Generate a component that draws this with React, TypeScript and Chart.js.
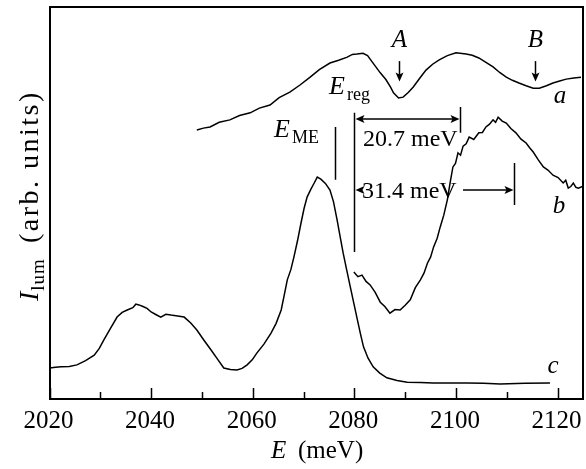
import { useEffect, useRef } from "react";
import { Chart, registerables } from "chart.js";

Chart.register(...registerables);

// Photon energy (meV) and luminescence intensity (arb. units) for the three spectra
const energyA = [2049.0, 2050.3, 2051.6, 2053.4, 2055.5, 2057.4, 2059.5, 2061.3, 2063.4, 2065.2, 2067.3, 2069.3, 2071.3, 2073.1, 2075.2, 2076.9, 2078.6, 2079.6, 2080.5, 2081.7, 2082.6, 2083.5, 2085.1, 2086.2, 2087.1, 2087.7, 2088.7, 2089.6, 2090.6, 2091.6, 2092.9, 2094.1, 2095.4, 2096.7, 2098.3, 2100.0, 2102.0, 2103.2, 2104.5, 2105.9, 2107.3, 2108.6, 2109.9, 2111.1, 2112.4, 2113.8, 2115.2, 2116.4, 2117.8, 2119.1, 2120.4, 2121.7, 2123.2, 2124.6];
const intensityA = [68.6, 69.1, 69.4, 70.6, 71.2, 72.3, 73.0, 74.2, 75.0, 76.9, 78.3, 80.1, 82.1, 84.0, 85.7, 86.4, 87.2, 87.9, 88.0, 88.2, 87.6, 86.0, 83.2, 81.5, 79.6, 78.1, 76.8, 77.0, 78.2, 79.6, 81.9, 83.9, 85.4, 86.5, 87.6, 88.3, 88.0, 87.7, 87.0, 85.9, 84.7, 83.3, 82.1, 81.3, 80.6, 79.9, 79.3, 79.3, 79.9, 80.6, 81.1, 81.6, 81.9, 82.1];

const energyB = [2079.9, 2080.7, 2081.5, 2082.3, 2083.1, 2084.1, 2085.1, 2086.0, 2087.0, 2088.0, 2089.0, 2090.0, 2091.0, 2092.0, 2093.0, 2093.7, 2094.4, 2095.0, 2095.6, 2096.3, 2096.9, 2097.6, 2098.3, 2098.9, 2099.4, 2099.9, 2100.4, 2100.9, 2101.4, 2102.0, 2102.6, 2103.5, 2104.5, 2105.2, 2105.9, 2106.6, 2107.3, 2107.8, 2108.3, 2109.1, 2109.9, 2110.8, 2111.8, 2112.8, 2113.8, 2114.5, 2115.2, 2116.2, 2117.2, 2118.1, 2119.1, 2120.1, 2121.1, 2121.6, 2122.1, 2122.6, 2123.1, 2123.6, 2124.1, 2125.0];
const intensityB = [32.4, 31.2, 31.6, 30.0, 29.1, 27.2, 24.7, 23.6, 21.9, 22.8, 22.7, 23.9, 25.3, 28.4, 30.4, 32.1, 34.7, 36.2, 38.8, 41.0, 43.9, 46.9, 50.8, 55.6, 59.2, 60.1, 62.8, 62.2, 64.5, 65.1, 66.8, 66.2, 67.9, 68.0, 69.4, 70.1, 71.2, 70.6, 71.9, 70.9, 70.4, 69.0, 67.9, 66.3, 65.3, 64.1, 63.0, 61.0, 59.2, 58.4, 57.1, 56.5, 55.1, 55.8, 53.8, 54.2, 55.1, 54.0, 53.8, 54.3];

const energyC = [2020.0, 2021.2, 2022.3, 2023.9, 2025.4, 2027.1, 2028.8, 2029.8, 2030.7, 2032.0, 2033.3, 2034.3, 2035.3, 2036.4, 2037.0, 2037.6, 2038.4, 2039.2, 2040.0, 2041.0, 2041.9, 2042.9, 2043.9, 2045.2, 2046.5, 2047.8, 2049.0, 2050.4, 2051.8, 2053.1, 2054.3, 2055.6, 2056.9, 2057.9, 2058.9, 2059.9, 2060.8, 2062.2, 2063.6, 2064.6, 2065.6, 2066.2, 2066.8, 2067.5, 2068.1, 2068.8, 2069.5, 2070.1, 2070.7, 2071.4, 2072.1, 2072.7, 2073.4, 2074.3, 2075.2, 2075.9, 2076.6, 2077.2, 2077.8, 2078.5, 2079.2, 2079.9, 2080.6, 2081.2, 2081.8, 2082.7, 2083.7, 2085.0, 2086.4, 2088.4, 2090.4, 2093.0, 2095.5, 2099.0, 2102.2, 2105.4, 2108.7, 2113.6, 2118.5];
const intensityC = [7.9, 8.1, 8.2, 8.3, 8.7, 9.8, 11.2, 12.9, 15.1, 18.0, 20.9, 22.1, 22.7, 23.3, 24.2, 24.0, 23.6, 23.1, 22.2, 21.5, 20.9, 21.6, 21.4, 21.2, 20.9, 19.4, 17.6, 15.0, 12.5, 10.1, 7.9, 7.5, 7.4, 7.8, 8.7, 10.0, 11.7, 14.0, 16.8, 19.3, 22.7, 26.5, 30.4, 33.0, 36.2, 40.3, 44.9, 48.6, 51.5, 53.4, 55.1, 56.6, 56.1, 55.0, 53.3, 50.3, 45.7, 41.4, 37.2, 32.9, 28.6, 24.4, 20.2, 16.6, 13.3, 10.4, 8.2, 6.6, 5.4, 4.7, 4.3, 4.2, 4.1, 4.1, 4.1, 4.0, 3.8, 4.0, 4.1];

// Axis ticks
const majorTicks = [2020, 2040, 2060, 2080, 2100, 2120];
const minorTicks = [2030, 2050, 2070, 2090, 2110];
const tickLabels = ["2020", "2040", "2060", "2080", "2100", "2120"];

// Characteristic energies (meV)
const energyME = 2076.2;
const energyReg = 2080.0;
const shiftsFromReg = [20.7, 31.4];
const featureEnergies = [2088.7, 2115.5];
const featureNames = ["A", "B"];

const SERIF = '"Liberation Serif", "DejaVu Serif", serif';

const toPoints = (xs: number[], ys: number[]) => xs.map((x, i) => ({ x, y: ys[i] }));

const overlay = {
  id: "spectraOverlay",
  afterDraw(chart: any) {
    const { ctx } = chart;
    const sx = chart.scales.x;
    const sy = chart.scales.y;
    const X = (v: number) => sx.getPixelForValue(v);
    const Y = (v: number) => sy.getPixelForValue(v);
    ctx.save();
    ctx.strokeStyle = "#000";
    ctx.fillStyle = "#000";

    // Plot frame
    const L = Math.round(X(2020));
    const R = Math.round(X(2125));
    const T = Math.round(Y(100));
    const B = Math.round(Y(0));
    ctx.fillRect(L - 1, T - 1, R - L + 2, 2);
    ctx.fillRect(L - 1, B - 1, R - L + 2, 2);
    ctx.fillRect(L - 1, T - 1, 2, B - T + 2);
    ctx.fillRect(R - 1, T - 1, 2, B - T + 2);

    // Inward ticks
    ctx.lineWidth = 1.5;
    ctx.beginPath();
    majorTicks.forEach((t) => {
      const px = Math.round(X(t)) + 0.5;
      ctx.moveTo(px, B);
      ctx.lineTo(px, B - 11);
    });
    minorTicks.forEach((t) => {
      const px = Math.round(X(t)) + 0.5;
      ctx.moveTo(px, B);
      ctx.lineTo(px, B - 7);
    });
    ctx.stroke();

    // Tick labels
    ctx.font = `25px ${SERIF}`;
    ctx.textAlign = "center";
    ctx.textBaseline = "alphabetic";
    majorTicks.forEach((t, i) => ctx.fillText(tickLabels[i], X(t) - 1, 428));

    // X axis title
    ctx.textAlign = "left";
    ctx.font = `italic 25px ${SERIF}`;
    ctx.fillText("E", 271, 458);
    ctx.font = `25px ${SERIF}`;
    ctx.fillText("(meV)", 298, 458);

    // Y axis title, rotated
    ctx.save();
    ctx.translate(38, 301);
    ctx.rotate(-Math.PI / 2);
    ctx.font = `italic 28px ${SERIF}`;
    ctx.fillText("I", 0, 0);
    let w = ctx.measureText("I").width;
    ctx.font = `19px ${SERIF}`;
    (ctx as any).letterSpacing = "1px";
    ctx.fillText("lum", w + 1, 6);
    w += 1 + ctx.measureText("lum").width + 15;
    ctx.font = `28px ${SERIF}`;
    (ctx as any).letterSpacing = "2.5px";
    ctx.fillText("(arb. units)", w, 0);
    (ctx as any).letterSpacing = "0px";
    ctx.restore();

    const arrowHead = (x: number, y: number, dir: number) => {
      ctx.beginPath();
      ctx.moveTo(x, y);
      ctx.lineTo(x - dir * 9, y - 4);
      ctx.lineTo(x - dir * 7, y);
      ctx.lineTo(x - dir * 9, y + 4);
      ctx.closePath();
      ctx.fill();
    };
    const downArrow = (x: number, yTop: number, yTip: number) => {
      ctx.beginPath();
      ctx.moveTo(x, yTop);
      ctx.lineTo(x, yTip - 4);
      ctx.stroke();
      ctx.beginPath();
      ctx.moveTo(x, yTip);
      ctx.lineTo(x - 4, yTip - 9);
      ctx.lineTo(x, yTip - 7);
      ctx.lineTo(x + 4, yTip - 9);
      ctx.closePath();
      ctx.fill();
    };

    ctx.lineWidth = 1.5;
    // Vertical markers at E_ME and E_reg
    const xME = Math.round(X(energyME)) + 0.5;
    const xReg = Math.round(X(energyReg)) + 0.5;
    ctx.beginPath();
    ctx.moveTo(xME, Y(69.4));
    ctx.lineTo(xME, Y(55.9));
    ctx.moveTo(xReg, Y(73.0));
    ctx.lineTo(xReg, Y(37.5));
    ctx.stroke();

    // 20.7 meV double arrow
    const x1 = Math.round(X(energyReg + shiftsFromReg[0])) + 0.5;
    const y1 = Y(71.4);
    ctx.beginPath();
    ctx.moveTo(x1, Y(74.5));
    ctx.lineTo(x1, Y(67.9));
    ctx.moveTo(xReg + 6, y1);
    ctx.lineTo(x1 - 6, y1);
    ctx.stroke();
    arrowHead(xReg + 1, y1, -1);
    arrowHead(x1 - 1, y1, 1);

    // 31.4 meV arrow split around its label
    const x2 = Math.round(X(energyReg + shiftsFromReg[1])) + 0.5;
    const y2 = Y(53.3);
    ctx.beginPath();
    ctx.moveTo(x2, Y(60.2));
    ctx.lineTo(x2, Y(49.5));
    ctx.moveTo(463, y2);
    ctx.lineTo(x2 - 6, y2);
    ctx.stroke();
    arrowHead(xReg + 1, y2, -1);
    arrowHead(x2 - 1, y2, 1);

    ctx.font = `24px ${SERIF}`;
    ctx.textAlign = "left";
    ctx.fillText(`${shiftsFromReg[0]} meV`, 363, 146);
    ctx.fillText(`${shiftsFromReg[1]} meV`, 362, 198);

    // E_reg and E_ME labels
    ctx.font = `italic 26px ${SERIF}`;
    ctx.fillText("E", 329, 94);
    ctx.fillText("E", 274, 137);
    ctx.font = `18px ${SERIF}`;
    ctx.fillText("reg", 347, 100);
    ctx.fillText("ME", 292, 143);

    // Feature arrows A and B
    ctx.textAlign = "center";
    featureEnergies.forEach((e, i) => {
      const px = Math.round(X(e)) + 0.5;
      downArrow(px, Y(86.2), Y(81.0));
      ctx.font = `italic 25px ${SERIF}`;
      ctx.fillText(featureNames[i], px, 47);
    });

    // Curve labels
    ctx.fillText("a", 560, 103);
    ctx.fillText("b", 559, 213);
    ctx.fillText("c", 553, 373);

    ctx.restore();
  },
};

export default function App() {
  const canvasRef = useRef<HTMLCanvasElement | null>(null);

  useEffect(() => {
    if (!canvasRef.current) return;
    const line = (data: { x: number; y: number }[]) => ({
      data,
      borderColor: "#000",
      borderWidth: 1.5,
      pointRadius: 0,
      tension: 0,
      fill: false,
    });
    const chart = new Chart(canvasRef.current, {
      type: "line",
      data: {
        datasets: [
          line(toPoints(energyA, intensityA)),
          line(toPoints(energyB, intensityB)),
          line(toPoints(energyC, intensityC)),
        ],
      },
      options: {
        responsive: false,
        animation: false,
        devicePixelRatio: 1,
        layout: { padding: { left: 49.5, right: 3, top: 7, bottom: 70 } },
        plugins: { legend: { display: false }, tooltip: { enabled: false } },
        scales: {
          x: { type: "linear", min: 2020, max: 2125, display: false },
          y: { type: "linear", min: 0, max: 100, display: false },
        },
      },
      plugins: [overlay],
    });
    return () => chart.destroy();
  }, []);

  return (
    <div style={{ position: "fixed", left: 0, top: 0, width: 586, height: 469, background: "#fff" }}>
      <canvas ref={canvasRef} width={586} height={469} style={{ display: "block" }} />
    </div>
  );
}
